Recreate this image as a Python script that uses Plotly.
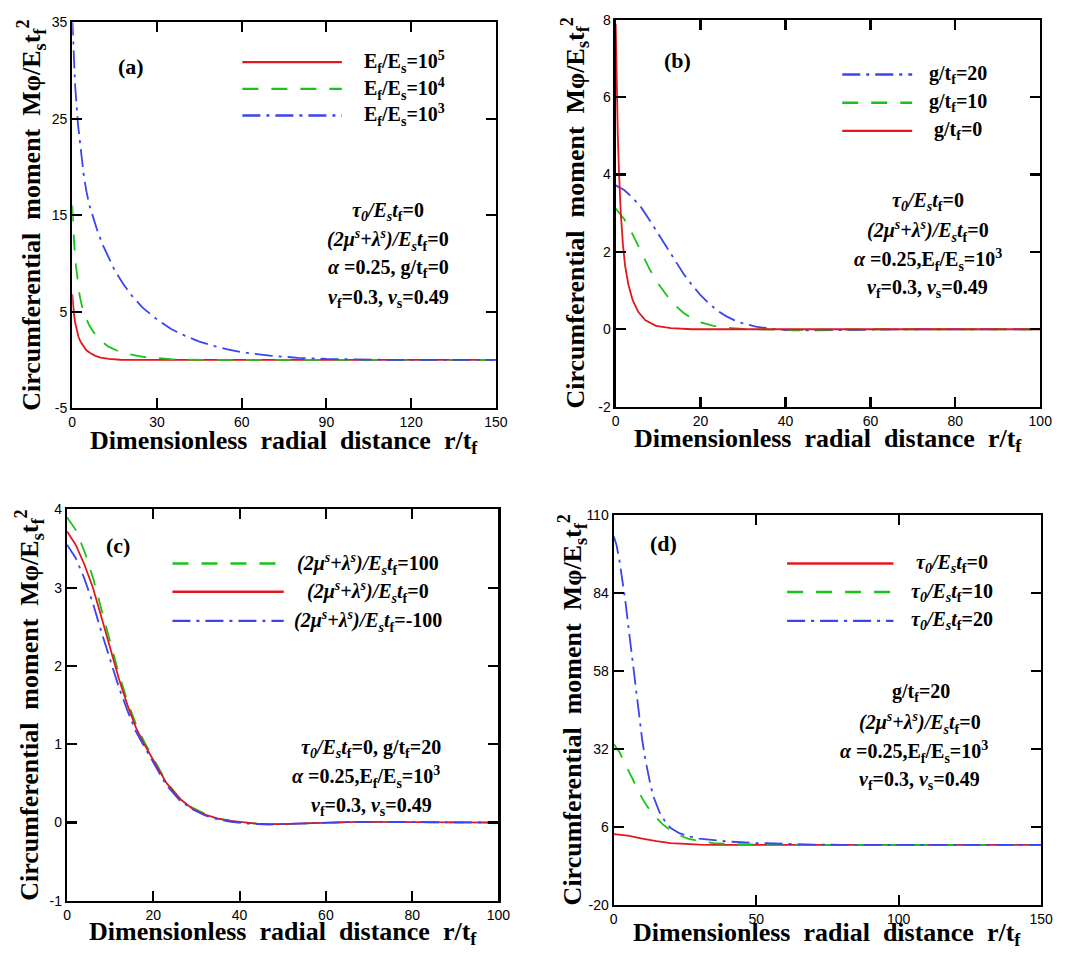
import plotly.graph_objects as go

W, H = 1067, 956

# ---------------- data ----------------
# Panel (a): Ef/Es = 1e5 (red), 1e4 (green), 1e3 (blue)
a_red_x = [0, 0.3, 0.6, 1, 1.5, 2.2, 3, 4, 5, 6.5, 8, 10, 13, 17, 20, 150]
a_red_y = [6.8, 5.6, 4.8, 3.9, 3.1, 2.4, 1.85, 1.35, 1.0, 0.7, 0.45, 0.25, 0.1, 0.02, 0, 0]
a_green_x = [0, 0.3, 0.7, 1.2, 1.8, 2.6, 3.5, 4.5, 6, 8, 10, 13, 16, 20, 25, 30, 35, 40, 50, 150]
a_green_y = [16, 14, 12, 10, 8.3, 6.7, 5.5, 4.6, 3.6, 2.7, 2.0, 1.35, 0.95, 0.6, 0.33, 0.17, 0.08, 0.03, 0, 0]
a_blue_x = [0, 0.5, 1, 2, 3, 4, 5, 6, 7.5, 9, 11, 13, 15, 18, 21, 25, 30, 35, 40, 45, 50, 55, 60, 70, 80, 90, 100, 115, 150]
a_blue_y = [35.5, 31.5, 28.5, 24.5, 21.5, 19.3, 17.5, 16.1, 14.7, 13.3, 11.8, 10.5, 9.3, 7.9, 6.7, 5.4, 4.2, 3.2, 2.5, 1.9, 1.45, 1.1, 0.8, 0.45, 0.22, 0.1, 0.04, 0, 0]

# Panel (b): g/tf = 20 (blue), 10 (green), 0 (red)
b_red_x = [0, 0.2, 0.5, 0.8, 1.2, 1.7, 2.2, 3, 4, 5.3, 7, 9.5, 13, 18, 100]
b_red_y = [7.9, 6.6, 5.0, 4.0, 3.0, 2.2, 1.65, 1.15, 0.75, 0.45, 0.23, 0.09, 0.03, 0, 0]
b_green_x = [0, 2, 4, 6, 8, 10, 12, 14, 16, 18, 20, 23, 26, 30, 35, 40, 50, 60, 100]
b_green_y = [3.12, 2.85, 2.45, 2.0, 1.55, 1.18, 0.88, 0.62, 0.42, 0.28, 0.18, 0.09, 0.04, 0.01, -0.01, -0.02, -0.01, 0, 0]
b_blue_x = [0, 2, 4, 6, 8, 10, 12, 14, 16, 18, 20, 22, 24, 26, 28, 30, 33, 36, 40, 45, 50, 55, 60, 70, 100]
b_blue_y = [3.72, 3.6, 3.4, 3.15, 2.82, 2.47, 2.1, 1.75, 1.43, 1.14, 0.88, 0.66, 0.48, 0.34, 0.23, 0.15, 0.07, 0.02, -0.02, -0.03, -0.03, -0.02, -0.01, 0, 0]

# Panel (c): (2mu+lambda)/Estf = 100 (green), 0 (red), -100 (blue)
c_x = [0, 2, 4, 6, 8, 10, 12, 14, 16, 18, 20, 23, 26, 29, 32, 35, 38, 41, 44, 47, 50, 55, 60, 65, 70, 75, 80, 90, 100]
c_green_y = [3.9, 3.74, 3.47, 3.13, 2.72, 2.3, 1.9, 1.55, 1.25, 1.02, 0.82, 0.52, 0.32, 0.19, 0.11, 0.05, 0.02, 0.0, -0.015, -0.02, -0.02, -0.01, 0.0, 0.005, 0.008, 0.008, 0.005, 0, 0]
c_red_y = [3.72, 3.55, 3.3, 3.0, 2.62, 2.22, 1.84, 1.5, 1.21, 0.99, 0.8, 0.51, 0.31, 0.18, 0.1, 0.05, 0.02, 0.0, -0.015, -0.02, -0.02, -0.01, 0.0, 0.005, 0.008, 0.008, 0.005, 0, 0]
c_blue_y = [3.55, 3.38, 3.12, 2.8, 2.43, 2.07, 1.73, 1.43, 1.16, 0.96, 0.77, 0.48, 0.29, 0.17, 0.09, 0.04, 0.01, -0.01, -0.02, -0.025, -0.02, -0.01, 0.0, 0.005, 0.008, 0.008, 0.005, 0, 0]

# Panel (d): tau0/Estf = 0 (red), 10 (green), 20 (blue)
d_red_x = [0, 5, 10, 15, 20, 25, 30, 35, 150]
d_red_y = [3.6, 3.1, 2.1, 1.2, 0.6, 0.25, 0.05, 0, 0]
d_green_x = [0, 2, 4, 6, 8, 10, 12, 14, 17, 20, 23, 26, 30, 35, 40, 50, 60, 150]
d_green_y = [33.7, 31, 27, 23, 19, 15.5, 12.5, 10, 7, 4.8, 3.2, 2.1, 1.2, 0.6, 0.3, 0.1, 0, 0]
d_blue_x = [0, 1, 2, 3, 4, 5, 6, 7, 8, 9, 10, 11, 12, 13, 14, 16, 18, 20, 23, 26, 30, 35, 40, 50, 60, 70, 80, 150]
d_blue_y = [103, 100, 95, 89, 82, 74, 66, 58, 50, 42, 35, 29, 24, 19.5, 16, 11, 7.8, 5.6, 3.9, 2.9, 2.1, 1.5, 1.1, 0.6, 0.3, 0.1, 0, 0]

# ticks
a_xticks = [0, 30, 60, 90, 120, 150]
a_yticks = [-5, 5, 15, 25, 35]
b_xticks = [0, 20, 40, 60, 80, 100]
b_yticks = [-2, 0, 2, 4, 6, 8]
c_xticks = [0, 20, 40, 60, 80, 100]
c_yticks = [-1, 0, 1, 2, 3, 4]
d_xticks = [0, 50, 100, 150]
d_yticks = [-20, 6, 32, 58, 84, 110]

# legend labels
a_labels = ["E<sub>f</sub>/E<sub>s</sub>=10<sup>5</sup>", "E<sub>f</sub>/E<sub>s</sub>=10<sup>4</sup>", "E<sub>f</sub>/E<sub>s</sub>=10<sup>3</sup>"]
b_labels = ["g/t<sub>f</sub>=20", "g/t<sub>f</sub>=10", "g/t<sub>f</sub>=0"]
MU = "<i>(2μ<sup>s</sup>+λ<sup>s</sup>)/E<sub>s</sub>t</i><sub>f</sub>"
TAU = "<i>τ<sub>0</sub>/E<sub>s</sub>t</i><sub>f</sub>"
c_labels = [MU + "=100", MU + "=0", MU + "=-100"]
d_labels = [TAU + "=0", TAU + "=10", TAU + "=20"]

# ---------------- styling ----------------
RED, GREEN, BLUE = "#e3181c", "#19c419", "#3a44f2"
DASH = {"solid": "solid", "dash": "16px,13px", "dashdot": "18px,6px,3px,6px"}
STY = {"r": (RED, "solid"), "g": (GREEN, "dash"), "b": (BLUE, "dashdot")}
SERIF = "Liberation Serif, Times New Roman, serif"
SANS = "Liberation Sans, Arial, sans-serif"
SP = "\u00a0 "

def fx(p):
    return p / W

def fy(p):
    return 1 - p / H

fig = go.Figure()

panels = [
    dict(box=(69.3, 499.3, 14.5, 407), xr=[0, 150], xt=a_xticks, yr=[-5, 35], yt=a_yticks,
         series=[(a_red_x, a_red_y, "r", a_labels[0]), (a_green_x, a_green_y, "g", a_labels[1]), (a_blue_x, a_blue_y, "b", a_labels[2])],
         tag="(a)", tagpos=(128.5, 60),
         leg=dict(x0=242, x1=343, ys=[55, 82.3, 109.3], tx=407),
         params=[(TAU + "=0", 390, 207), (MU + "=0", 390, 236),
                 ("<i>α</i> =0.25, g/t<sub>f</sub>=0", 390, 265),
                 ("<i>ν</i><sub>f</sub>=0.3, <i>ν</i><sub>s</sub>=0.49", 390, 295)],
         ytitle_x=28, xtitle_dy=34),
    dict(box=(621, 1052, 12, 405.4), xr=[0, 100], xt=b_xticks, yr=[-2, 8], yt=b_yticks,
         series=[(b_blue_x, b_blue_y, "b", b_labels[0]), (b_green_x, b_green_y, "g", b_labels[1]), (b_red_x, b_red_y, "r", b_labels[2])],
         tag="(b)", tagpos=(684, 53.4),
         leg=dict(x0=851, x1=922, ys=[67.6, 96.3, 125], tx=969),
         params=[(TAU + "=0", 938, 197), (MU + "=0", 938, 227),
                 ("<i>α</i> =0.25,E<sub>f</sub>/E<sub>s</sub>=10<sup>3</sup>", 938, 256),
                 ("<i>ν</i><sub>f</sub>=0.3, <i>ν</i><sub>s</sub>=0.49", 938, 285.5)],
         ytitle_x=580, xtitle_dy=34),
    dict(box=(64, 502, 510, 908), xr=[0, 100], xt=c_xticks, yr=[-1, 4], yt=c_yticks,
         series=[(c_x, c_green_y, "g", c_labels[0]), (c_x, c_red_y, "r", c_labels[1]), (c_x, c_blue_y, "b", c_labels[2])],
         tag="(c)", tagpos=(115.7, 546.7),
         leg=dict(x0=171, x1=284, ys=[565, 593.7, 623.3], tx=370),
         params=[(TAU + "=0, g/t<sub>f</sub>=20", 373, 753),
                 ("<i>α</i> =0.25,E<sub>f</sub>/E<sub>s</sub>=10<sup>3</sup>", 368, 782.5),
                 ("<i>ν</i><sub>f</sub>=0.3, <i>ν</i><sub>s</sub>=0.49", 373, 812)],
         ytitle_x=26, xtitle_dy=33),
    dict(box=(619, 1053, 516, 912), xr=[0, 150], xt=d_xticks, yr=[-20, 110], yt=d_yticks,
         series=[(d_red_x, d_red_y, "r", d_labels[0]), (d_green_x, d_green_y, "g", d_labels[1]), (d_blue_x, d_blue_y, "b", d_labels[2])],
         tag="(d)", tagpos=(669.5, 545),
         leg=dict(x0=795, x1=903, ys=[565, 594, 623.3], tx=962),
         params=[("g/t<sub>f</sub>=20", 931, 695.7), (MU + "=0", 929.5, 727.4),
                 ("<i>α</i> =0.25,E<sub>f</sub>/E<sub>s</sub>=10<sup>3</sup>", 923.6, 756.5),
                 ("<i>ν</i><sub>f</sub>=0.3, <i>ν</i><sub>s</sub>=0.49", 929.5, 785.9)],
         ytitle_x=577, xtitle_dy=30),
]

annotations = []
shapes = []
layout_axes = {}

for i, p in enumerate(panels, start=1):
    sfx = "" if i == 1 else str(i)
    xa, ya = "x" + sfx, "y" + sfx
    x0, x1, y0, y1 = p["box"]
    axis_common = dict(showline=True, linecolor="black", linewidth=2.2, mirror="ticks",
                       ticks="inside", ticklen=10, tickwidth=2.2, tickcolor="black",
                       showgrid=False, zeroline=False,
                       tickfont=dict(family=SANS, size=14, color="black"))
    layout_axes["xaxis" + sfx] = dict(axis_common, domain=[fx(x0), fx(x1)], anchor=ya, range=p["xr"],
                                      tickmode="array", tickvals=p["xt"], ticktext=[str(v) for v in p["xt"]])
    layout_axes["yaxis" + sfx] = dict(axis_common, domain=[fy(y1), fy(y0)], anchor=xa, range=p["yr"],
                                      tickmode="array", tickvals=p["yt"], ticktext=[str(v) for v in p["yt"]])
    for sx, sy, key, label in p["series"]:
        col, dash = STY[key]
        fig.add_trace(go.Scatter(x=sx, y=sy, mode="lines", name=label, showlegend=False,
                                 xaxis=xa, yaxis=ya, cliponaxis=True,
                                 line=dict(color=col, width=1.8, dash=DASH[dash])))
    # legend samples (drawn manually to match the long sample lines of the reference)
    lg = p["leg"]
    for (sx, sy, key, label), yy in zip(p["series"], lg["ys"]):
        col, dash = STY[key]
        shapes.append(dict(type="line", xref="paper", yref="paper",
                           x0=fx(lg["x0"]), x1=fx(lg["x1"]), y0=fy(yy), y1=fy(yy),
                           line=dict(color=col, width=2.4, dash=DASH[dash])))
        annotations.append(dict(text="<b>" + label + "</b>", xref="paper", yref="paper",
                                x=fx(lg["tx"]), y=fy(yy), xanchor="center", yanchor="middle",
                                showarrow=False, font=dict(family=SERIF, size=20, color="black")))
    # panel tag
    annotations.append(dict(text="<b>" + p["tag"] + "</b>", xref="paper", yref="paper",
                            x=fx(p["tagpos"][0]), y=fy(p["tagpos"][1]), xanchor="center", yanchor="middle",
                            showarrow=False, font=dict(family=SERIF, size=22, color="black")))
    # parameter block
    for txt, tx, ty in p["params"]:
        annotations.append(dict(text="<b>" + txt + "</b>", xref="paper", yref="paper",
                                x=fx(tx), y=fy(ty), xanchor="center", yanchor="middle",
                                showarrow=False, font=dict(family=SERIF, size=20, color="black")))
    # axis titles
    annotations.append(dict(text="<b>Circumferential" + SP + "moment" + SP + "Mφ/E<sub>s</sub>t<sub>f</sub><sup>2</sup></b>",
                            xref="paper", yref="paper", x=fx(p["ytitle_x"]), y=fy((y0 + y1) / 2),
                            xanchor="center", yanchor="middle", textangle=-90, showarrow=False,
                            font=dict(family=SERIF, size=26, color="black")))
    annotations.append(dict(text="<b>Dimensionless" + SP + "radial" + SP + "distance" + SP + "r/t<sub>f</sub></b>",
                            xref="paper", yref="paper", x=fx((x0 + x1) / 2), y=fy(y1 + p["xtitle_dy"]),
                            xanchor="center", yanchor="middle", showarrow=False,
                            font=dict(family=SERIF, size=26, color="black")))

fig.update_layout(**layout_axes)
fig.update_layout(width=W, height=H, margin=dict(l=0, r=0, t=0, b=0),
                  paper_bgcolor="white", plot_bgcolor="white",
                  annotations=annotations, shapes=shapes, showlegend=False)

fig.write_html("out.html",
               config={"displayModeBar": False, "staticPlot": True},
               post_script="document.body.style.margin='0';document.body.style.padding='0';"
                           "document.body.style.overflow='hidden';")
